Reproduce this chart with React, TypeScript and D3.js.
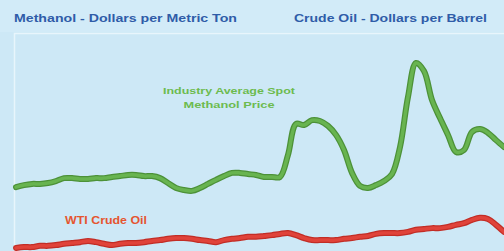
import React from "react";
import * as d3 from "d3";

const W = 504;
const H = 251;

// monthly observation index
const months = d3.range(62);

// Industry average spot methanol price, $ per metric ton
const methanol = [
  241, 248, 252, 252, 255, 262, 272, 272, 269, 269, 272, 272, 276, 279, 283, 283,
  279, 279, 272, 255, 238, 231, 228, 238, 252, 266, 279, 290, 290, 286, 283, 276,
  276, 276, 352, 459, 455, 472, 469, 452, 421, 369, 290, 245, 238, 248, 262, 286,
  379, 552, 669, 641, 541, 479, 421, 362, 369, 431, 441, 428, 403, 379,
];

// WTI crude oil, $ per barrel
const crude = [
  22, 24, 24, 27, 27, 29, 32, 34, 36, 39, 36, 32, 29, 32, 34, 34,
  36, 39, 41, 44, 46, 46, 44, 41, 39, 36, 41, 44, 46, 49, 49, 51,
  53, 56, 58, 53, 46, 41, 41, 41, 41, 44, 46, 49, 51, 56, 58, 58,
  58, 61, 66, 68, 70, 70, 73, 78, 82, 90, 95, 92, 78, 61,
];

const titleLeft = "Methanol - Dollars per Metric Ton";
const titleRight = "Crude Oil - Dollars per Barrel";
const labelMethanol = ["Industry Average Spot", "Methanol Price"];
const labelCrude = "WTI Crude Oil";

export default function App() {
  const x = d3.scaleLinear().domain([0, months.length - 1]).range([16, 504]);
  const yM = d3.scaleLinear().domain([0, 800]).range([257, 25]);
  const yC = d3.scaleLinear().domain([0, 160]).range([257, 191]);

  const lineM = d3
    .line<number>()
    .x((_, i) => x(months[i]))
    .y((d) => yM(d))
    .curve(d3.curveCatmullRom.alpha(0.5));
  const lineC = d3
    .line<number>()
    .x((_, i) => x(months[i]))
    .y((d) => yC(d))
    .curve(d3.curveCatmullRom.alpha(0.5));

  const font = "'Liberation Sans', Arial, sans-serif";

  return (
    <svg
      width={W}
      height={H}
      style={{ position: "absolute", left: 0, top: 0, display: "block" }}
    >
      <rect x={0} y={0} width={W} height={H} fill="#cde8f6" />
      <rect x={0} y={0} width={W} height={32} fill="#d2ebf8" />
      <path d={`M14.5,${H} V33.5 H${W}`} fill="none" stroke="#e8f5fc" strokeWidth={1.5} />

      <text
        x={14}
        y={22}
        fontFamily={font}
        fontWeight="bold"
        fontSize={11}
        fill="#2f5ca8"
        textLength={223}
        lengthAdjust="spacingAndGlyphs"
      >
        {titleLeft}
      </text>
      <text
        x={294}
        y={22}
        fontFamily={font}
        fontWeight="bold"
        fontSize={11}
        fill="#2f5ca8"
        textLength={193}
        lengthAdjust="spacingAndGlyphs"
      >
        {titleRight}
      </text>

      <path d={lineM(methanol) || ""} fill="none" stroke="#4c9138" strokeWidth={6} strokeLinejoin="round" strokeLinecap="round" />
      <path d={lineM(methanol) || ""} fill="none" stroke="#68b450" strokeWidth={3.5} strokeLinejoin="round" strokeLinecap="round" />

      <path d={lineC(crude) || ""} fill="none" stroke="#c22d26" strokeWidth={6} strokeLinejoin="round" strokeLinecap="round" />
      <path d={lineC(crude) || ""} fill="none" stroke="#e0433a" strokeWidth={3.5} strokeLinejoin="round" strokeLinecap="round" />

      <text
        x={229}
        y={94}
        textAnchor="middle"
        fontFamily={font}
        fontWeight="bold"
        fontSize={9.5}
        fill="#6cbb4e"
        textLength={132}
        lengthAdjust="spacingAndGlyphs"
      >
        {labelMethanol[0]}
      </text>
      <text
        x={229}
        y={108}
        textAnchor="middle"
        fontFamily={font}
        fontWeight="bold"
        fontSize={9.5}
        fill="#6cbb4e"
        textLength={91}
        lengthAdjust="spacingAndGlyphs"
      >
        {labelMethanol[1]}
      </text>
      <text
        x={65}
        y={224}
        fontFamily={font}
        fontWeight="bold"
        fontSize={10}
        fill="#e5552f"
        textLength={82}
        lengthAdjust="spacingAndGlyphs"
      >
        {labelCrude}
      </text>
    </svg>
  );
}
